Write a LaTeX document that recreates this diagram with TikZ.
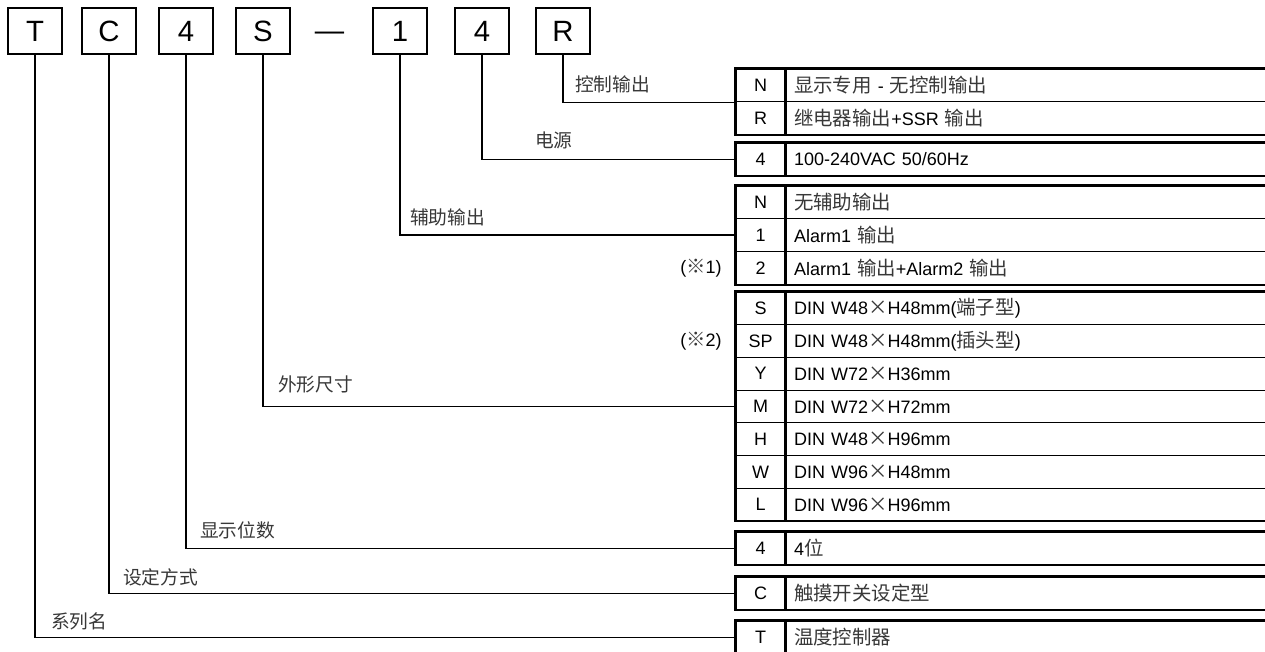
\documentclass[tikz,border=0pt]{standalone}
\usepackage{fontspec}
\usepackage{xcolor}
\setmainfont{Liberation Sans}
\newfontfamily\cjkraw[Scale=1.08]{Noto Sans CJK SC}
\newcommand\cjk{\cjkraw\color{black!78}}
\newcommand\optrow[4]{%
  \node[codecell] (#1) at (760.5,{#2+16.35}) {#3};
  \node[desccell] (#1d) at (#1.east) {#4};}
\begin{document}
\begin{tikzpicture}[x=0.75pt,y=-0.75pt,
  codebox/.style={draw, line width=1.2pt, minimum width=40.5pt, minimum height=34.5pt, inner sep=0pt, font=\fontsize{22}{26}\selectfont},
  codecell/.style={draw, line width=0.8pt, minimum width=36.75pt, minimum height=24.5pt, inner sep=0pt, font=\fontsize{13.5}{15}\selectfont},
  desccell/.style={draw, line width=0.8pt, anchor=west, minimum height=24.5pt, text width=355.5pt, inner xsep=6pt, inner ysep=0pt, align=left, font=\fontsize{13.5}{15}\selectfont},
  outer/.style={line width=1.5pt},
  conn/.style={line width=1pt},
  lab/.style={anchor=west, inner sep=0pt, font=\fontsize{13}{15}\selectfont},
  note/.style={anchor=east, inner sep=0pt, font=\fontsize{13.5}{15}\selectfont}]
\clip (0,0) rectangle (1265,651);
\fill[white] (0,0) rectangle (1265,651);
% top code boxes
\node[codebox] (bT) at (35,31) {T};
\node[codebox] (bC) at (109,31) {C};
\node[codebox] (bD) at (186,31) {4};
\node[codebox] (bS) at (263,31) {S};
\node[inner sep=0pt, font=\fontsize{22}{26}\selectfont] (dash) at (329.5,36) {—};
\node[codebox] (bA) at (400,31) {1};
\node[codebox] (bP) at (482,31) {4};
\node[codebox] (bR) at (563,31) {R};
% tables
\optrow{t1a}{69}{N}{{\cjk 显示专用} - {\cjk 无控制输出}}
\optrow{t1b}{101.7}{R}{{\cjk 继电器输出}+SSR {\cjk 输出}}
\draw[outer] (t1a.north west) rectangle (t1bd.south east);
\optrow{t2a}{143}{4}{100-240VAC 50/60Hz}
\draw[outer] (t2a.north west) rectangle (t2ad.south east);
\optrow{t3a}{186}{N}{{\cjk 无辅助输出}}
\optrow{t3b}{218.7}{1}{Alarm1 {\cjk 输出}}
\optrow{t3c}{251.4}{2}{Alarm1 {\cjk 输出}+Alarm2 {\cjk 输出}}
\draw[outer] (t3a.north west) rectangle (t3cd.south east);
\optrow{t4a}{292}{S}{DIN W48{\cjk ×}H48mm({\cjk 端子型})}
\optrow{t4b}{324.7}{SP}{DIN W48{\cjk ×}H48mm({\cjk 插头型})}
\optrow{t4c}{357.4}{Y}{DIN W72{\cjk ×}H36mm}
\optrow{t4d}{390.1}{M}{DIN W72{\cjk ×}H72mm}
\optrow{t4e}{422.8}{H}{DIN W48{\cjk ×}H96mm}
\optrow{t4f}{455.5}{W}{DIN W96{\cjk ×}H48mm}
\optrow{t4g}{488.2}{L}{DIN W96{\cjk ×}H96mm}
\draw[outer] (t4a.north west) rectangle (t4gd.south east);
\optrow{t5a}{532}{4}{4{\cjk 位}}
\draw[outer] (t5a.north west) rectangle (t5ad.south east);
\optrow{t6a}{577}{C}{{\cjk 触摸开关设定型}}
\draw[outer] (t6a.north west) rectangle (t6ad.south east);
\optrow{t7a}{621}{T}{{\cjk 温度控制器}}
\draw[outer] (t7a.north west) rectangle (t7ad.south east);
% connectors
\draw[conn] (bR.south) |- (t1a.south west);
\draw[conn] (bP.south) |- (t2a.west);
\draw[conn] (bA.south) |- (t3b.west);
\draw[conn] (bS.south) |- (t4d.west);
\draw[conn] (bD.south) |- (t5a.west);
\draw[conn] (bC.south) |- (t6a.west);
\draw[conn] (bT.south) |- (t7a.west);
% labels
\node[lab] (lR) at (575,84) {\cjk 控制输出};
\node[lab] (lP) at (535,140) {\cjk 电源};
\node[lab] (lA) at (410,217) {\cjk 辅助输出};
\node[lab] (lS) at (278,384) {\cjk 外形尺寸};
\node[lab] (lD) at (200,530) {\cjk 显示位数};
\node[lab] (lC) at (123,577) {\cjk 设定方式};
\node[lab] (lT) at (51,621) {\cjk 系列名};
\node[note] (n1) at (722,268) {({\cjk ※}1)};
\node[note] (n2) at (722,341) {({\cjk ※}2)};
\end{tikzpicture}
\end{document}
